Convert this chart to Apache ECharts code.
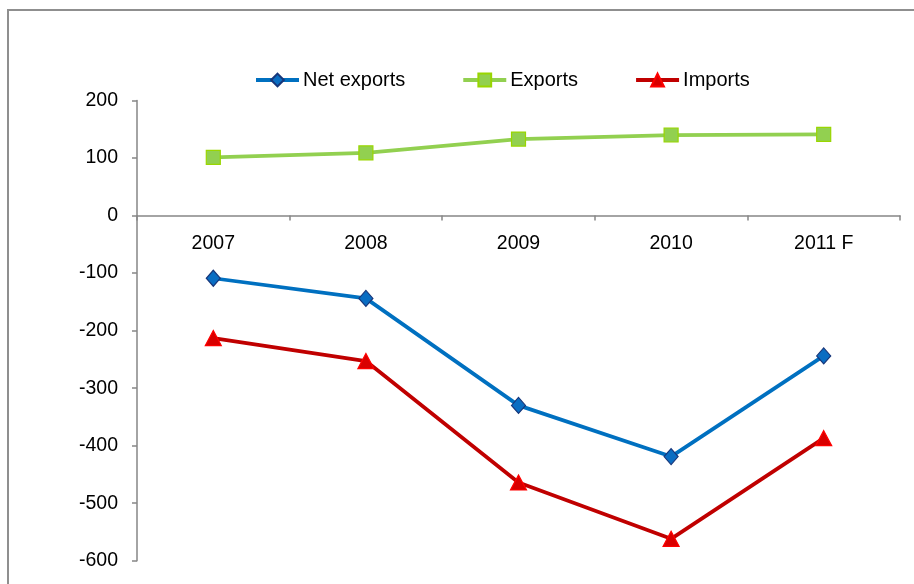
<!DOCTYPE html>
<html>
<head>
<meta charset="utf-8">
<script src="https://cdn.jsdelivr.net/npm/echarts@6/dist/echarts.min.js"></script>
<style>
  html, body { margin: 0; padding: 0; background: #fff; }
  #chart { width: 914px; height: 584px; }
</style>
</head>
<body>
<div id="chart"></div>
<script>
// Years on the category axis (2011 is a forecast)
const years = ['2007', '2008', '2009', '2010', '2011 F'];

// Trade balance series
const netExports = [-109, -144, -330, -419, -244];
const exportsVals = [101, 109, 133, 140, 141];
const importsVals = [-213, -253, -464, -562, -387];

// Value axis range and step
const yMin = -600;
const yMax = 200;
const yStep = 100;

const FONT = '"Liberation Sans", Arial, sans-serif';

// Plot box
const GRID_TOP = 100.5;
const GRID_BOTTOM = 23.3;
const GRID_H = 584 - GRID_TOP - GRID_BOTTOM;
// Lift the category axis (line, ticks, labels) up to the zero value
const zeroOffset = -GRID_H * (0 - yMin) / (yMax - yMin);

const chart = echarts.init(document.getElementById('chart'), null, { renderer: 'canvas' });

chart.setOption({
  backgroundColor: '#fff',
  animation: false,
  graphic: [{
    type: 'rect',
    shape: { x: 8, y: 10, width: 1000, height: 1000 },
    style: { fill: 'none', stroke: '#8f8f8f', lineWidth: 2 },
    silent: true,
    z: -10
  }],
  legend: {
    top: 65,
    left: 249,
    itemWidth: 43,
    itemHeight: 16,
    itemGap: 56,
    lineStyle: { width: 4 },
    textStyle: { fontFamily: FONT, fontSize: 20, color: '#000', padding: [0, 0, 0, -1] },
    data: ['Net exports', 'Exports', 'Imports']
  },
  grid: {
    left: 137,
    right: 14,
    top: GRID_TOP,
    bottom: GRID_BOTTOM,
    containLabel: false,
    outerBoundsMode: 'none'
  },
  xAxis: {
    type: 'category',
    data: years,
    boundaryGap: true,
    offset: zeroOffset,
    axisLine: { onZero: false, lineStyle: { color: '#868686', width: 1.5 } },
    axisTick: { show: true, alignWithLabel: false, length: 5, lineStyle: { color: '#868686', width: 1.5 } },
    axisLabel: { fontFamily: FONT, fontSize: 19.5, color: '#000', margin: 18 },
    splitLine: { show: false }
  },
  yAxis: {
    type: 'value',
    min: yMin,
    max: yMax,
    interval: yStep,
    axisLine: { show: true, lineStyle: { color: '#868686', width: 1.5 } },
    axisTick: { show: true, length: 5, lineStyle: { color: '#868686', width: 1.5 } },
    axisLabel: { fontFamily: FONT, fontSize: 19.5, color: '#000', margin: 19, padding: [3, 0, 0, 0] },
    splitLine: { show: false }
  },
  series: [
    {
      name: 'Net exports',
      type: 'line',
      data: netExports,
      symbol: 'diamond',
      symbolSize: [14, 16],
      lineStyle: { color: '#0070C0', width: 3.75 },
      itemStyle: { color: '#0A6DC2', borderColor: '#17367A', borderWidth: 1.2 },
      z: 3
    },
    {
      name: 'Exports',
      type: 'line',
      data: exportsVals,
      symbol: 'rect',
      symbolSize: 14,
      lineStyle: { color: '#92D050', width: 3.75 },
      itemStyle: { color: '#92D050', borderColor: '#99D600', borderWidth: 1.2 },
      z: 2
    },
    {
      name: 'Imports',
      type: 'line',
      data: importsVals,
      symbol: 'triangle',
      symbolSize: [16, 15],
      lineStyle: { color: '#C00000', width: 3.75 },
      itemStyle: { color: '#D90000', borderColor: '#FF0000', borderWidth: 1.2 },
      z: 2
    }
  ]
});
</script>
</body>
</html>
